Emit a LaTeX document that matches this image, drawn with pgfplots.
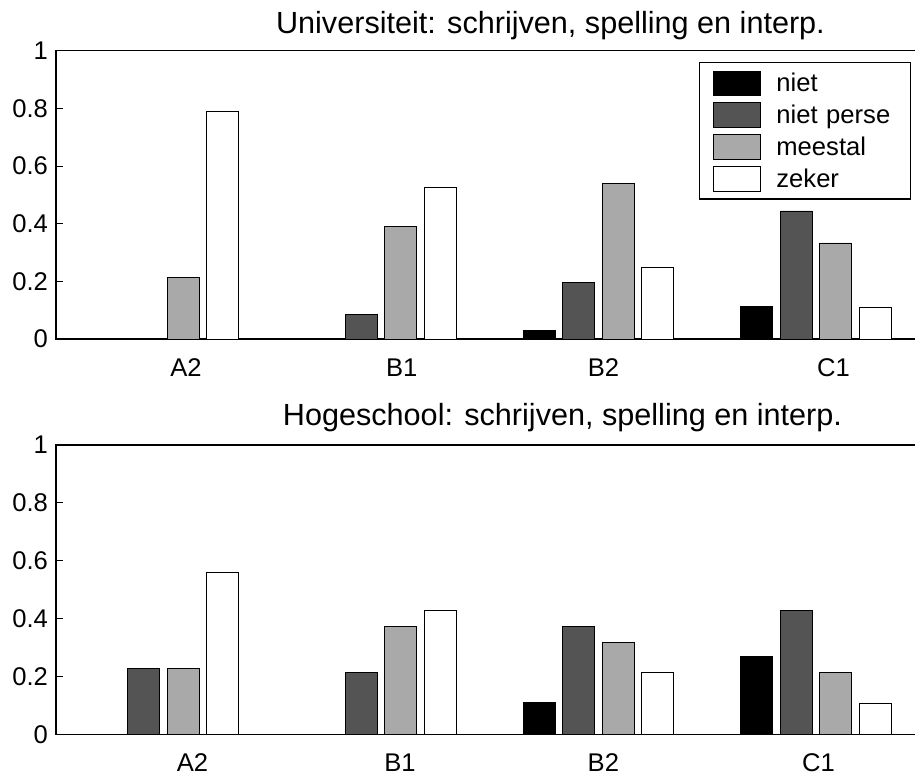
\documentclass[border=0pt]{standalone}
\usepackage{fontspec}
\setmainfont{Liberation Sans}
\usepackage{pgfplots}
\usepackage{pgfplotstable}
\pgfplotsset{compat=1.18}

\definecolor{nietperse}{RGB}{84,84,84}
\definecolor{meestal}{RGB}{169,169,169}

% shares per level (A2, B1, B2, C1)
\pgfplotstableread{
grp niet nietperse meestal zeker
1 0     0     0.215 0.790
2 0     0.084 0.389 0.527
3 0.031 0.196 0.540 0.250
4 0.113 0.444 0.333 0.111
}\univ

\pgfplotstableread{
grp niet nietperse meestal zeker
1 0     0.228 0.228 0.559
2 0     0.213 0.372 0.427
3 0.111 0.372 0.317 0.213
4 0.270 0.427 0.213 0.108
}\hoge

\pgfplotsset{
  matlabbars/.style={
    scale only axis, width=445pt, anchor=south west,
    xmin=0.5055, xmax=4.599, ymin=0, ymax=1,
    ytick={0,0.2,0.4,0.6,0.8,1},
    xticklabels={A2,B1,B2,C1},
    axis line style={line width=0.6pt},
    tick align=inside, major tick length=3.3pt,
    ytick style={line width=0.4pt, black},
    xtick style={draw=none},
    /pgf/number format/assume math mode=true,
    ticklabel style={font=\fontsize{12.8}{15}\selectfont},
    yticklabel style={inner xsep=3.85pt},
    xticklabel style={anchor=base, yshift=-18.8pt},
    title style={anchor=base, font=\fontsize{15.3}{18}\selectfont},
    legend image code/.code={\draw[#1] (0pt,-6.075pt) rectangle (23.5pt,6.075pt);},
  },
  b/.style={ybar, bar width=0.1472, draw=black, line width=0.4pt},
}

\begin{document}
\begin{tikzpicture}
\begin{axis}[matlabbars, at={(28pt,-169.5pt)}, height=144.15pt,
  xtick={1.103,2.096,3.024,4.081},
  title={Universiteit: schrijven, spelling en interp.},
  title style={at={(0.5556,1)}, yshift=2.5pt},
  legend cell align=left,
  legend style={at={(0.9607,0.9598)}, anchor=north east, draw=black, line width=0.6pt,
    fill=white, inner xsep=6.65pt, inner ysep=3.85pt, row sep=3.4pt, column sep=8pt,
    font=\fontsize{12.8}{15}\selectfont,
    nodes={inner sep=0pt, text height=10.5pt, text depth=1.65pt, text width=60.35pt}},
]
\addplot[b, bar shift=-0.2725, fill=black] table[x=grp, y=niet] {\univ};
\addplot[b, bar shift=-0.0908, fill=nietperse] table[x=grp, y=nietperse] {\univ};
\addplot[b, bar shift=0.0908, fill=meestal] table[x=grp, y=meestal] {\univ};
\addplot[b, bar shift=0.2725, fill=white] table[x=grp, y=zeker] {\univ};
\legend{niet, niet perse, meestal, zeker}
\end{axis}

\begin{axis}[matlabbars, at={(28pt,-367.15pt)}, height=144.65pt,
  xtick={1.133,2.088,3.023,4.012},
  title={Hogeschool: schrijven, spelling en interp.},
  title style={at={(0.5691,1)}, yshift=3.8pt},
]
\addplot[b, bar shift=-0.2725, fill=black] table[x=grp, y=niet] {\hoge};
\addplot[b, bar shift=-0.0908, fill=nietperse] table[x=grp, y=nietperse] {\hoge};
\addplot[b, bar shift=0.0908, fill=meestal] table[x=grp, y=meestal] {\hoge};
\addplot[b, bar shift=0.2725, fill=white] table[x=grp, y=zeker] {\hoge};
\end{axis}

\pgfresetboundingbox
\useasboundingbox (0,0) rectangle (457.5pt,-388pt);
\end{tikzpicture}
\end{document}
